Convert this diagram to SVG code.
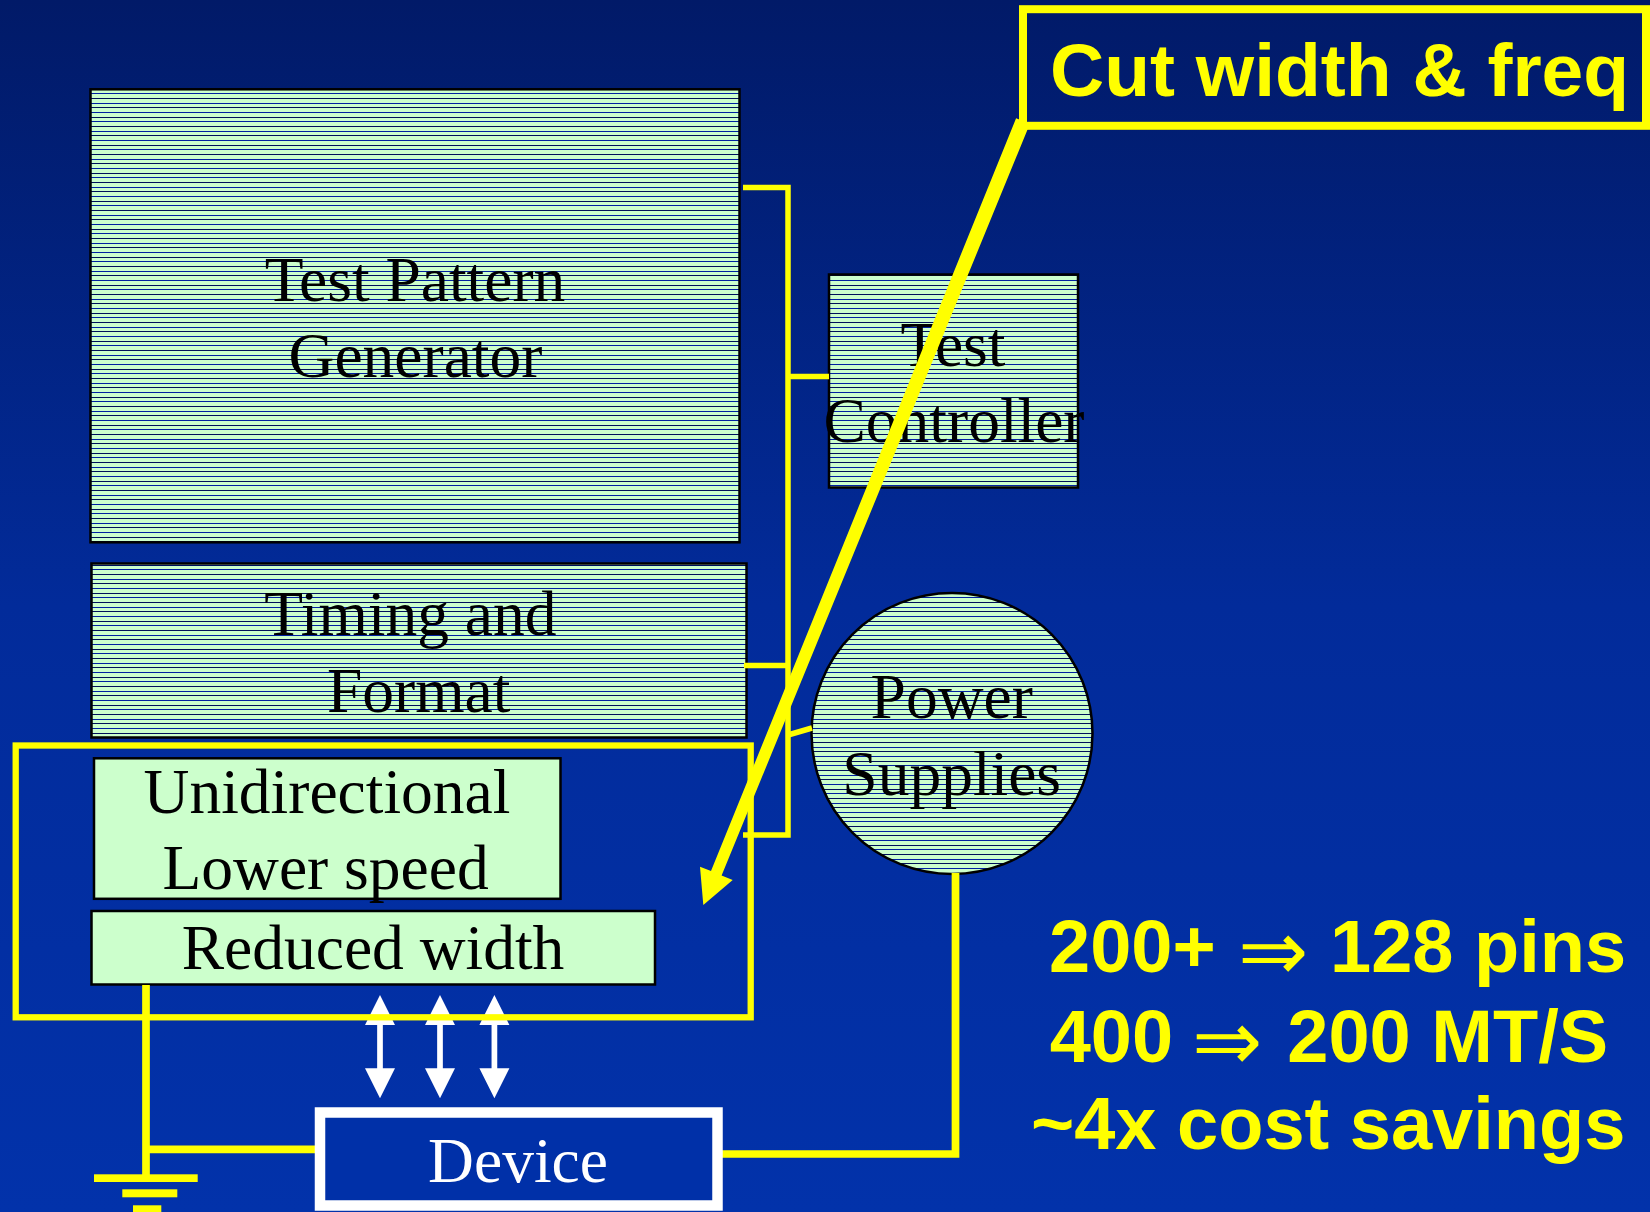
<svg xmlns="http://www.w3.org/2000/svg" width="1650" height="1212" viewBox="0 0 1650 1212">
<defs>
<linearGradient id="bg" x1="0" y1="0" x2="0" y2="1">
<stop offset="0" stop-color="#011a68"/>
<stop offset="0.5" stop-color="#022b9a"/>
<stop offset="1" stop-color="#0232aa"/>
</linearGradient>
<pattern id="hatch" patternUnits="userSpaceOnUse" width="20" height="28">
<rect width="20" height="28" fill="#ccffcc"/>
<rect y="0" width="20" height="1" fill="#0020a0"/>
<rect y="5" width="20" height="1" fill="#00105a"/>
<rect y="9" width="20" height="1" fill="#0020a0"/>
<rect y="14" width="20" height="1" fill="#00105a"/>
<rect y="19" width="20" height="1" fill="#0020a0"/>
<rect y="23" width="20" height="1" fill="#00105a"/>
</pattern>
<path id="bidi" d="M0,995 L15,1025 H2.85 V1068.3 H15 L0,1098.3 L-15,1068.3 H-2.85 V1025 H-15 Z" fill="#ffffff"/>
<style>
.box{stroke:#000;stroke-width:2.5}
.hatch{fill:url(#hatch)}
.plain{fill:#ccffcc}
.lbl{font-family:"Liberation Serif","Times New Roman",serif;font-size:63.5px;text-anchor:middle;fill:#000}
.wire{fill:none;stroke:#ffff00;stroke-width:5.5}
.gnd{fill:none;stroke:#ffff00;stroke-width:7.7}
.ybar{fill:#ffff00}
.big{font-family:"Liberation Sans",Arial,sans-serif;font-weight:bold;font-size:74px;fill:#ffff00}
.sym{font-family:"DejaVu Sans",sans-serif;font-weight:normal;font-size:84px;fill:#ffff00}
</style>
</defs>
<rect width="1650" height="1212" fill="url(#bg)"/>

<g id="test-pattern-generator">
<rect class="box hatch" x="90.5" y="89.3" width="649" height="453"/>
<text class="lbl" x="415" y="300.7">Test Pattern</text>
<text class="lbl" x="415.5" y="376.7">Generator</text>
</g>

<g id="test-controller">
<rect class="box hatch" x="829" y="274.5" width="249" height="213"/>
<text class="lbl" x="953" y="366.4">Test</text>
<text class="lbl" x="954" y="442.3">Controller</text>
</g>

<g id="timing-format">
<rect class="box hatch" x="91.5" y="563.5" width="655" height="174"/>
<text class="lbl" x="410.4" y="635">Timing and</text>
<text class="lbl" x="418.7" y="711.7">Format</text>
</g>

<g id="power-supplies">
<circle class="box hatch" cx="952" cy="733.5" r="140.5"/>
<text class="lbl" x="951.7" y="718.2">Power</text>
<text class="lbl" x="951.7" y="795">Supplies</text>
</g>

<g id="pin-electronics">
<use href="#bidi" x="380"/>
<use href="#bidi" x="440"/>
<use href="#bidi" x="494.4"/>
<rect x="15.7" y="745.5" width="735" height="271.8" fill="none" stroke="#ffff00" stroke-width="6.3"/>
</g>

<g id="unidirectional">
<rect class="box plain" x="94" y="758.3" width="466.5" height="140.5"/>
<text class="lbl" x="327" y="812.7">Unidirectional</text>
<text class="lbl" x="325.6" y="889.3">Lower speed</text>
</g>

<g id="reduced-width">
<rect class="box plain" x="91.5" y="911" width="563.5" height="73.5"/>
<text class="lbl" x="373" y="969.3">Reduced width</text>
</g>

<g id="connectors">
<path class="wire" d="M743,187.5 H788 V835 H743"/>
<path class="wire" d="M788,376.5 H829"/>
<path class="wire" d="M744,665.5 H788"/>
<path class="wire" d="M788,735 L812,728"/>
<path class="gnd" d="M146,985 V1178"/>
<path class="gnd" d="M146,1149.3 H318"/>
<path class="gnd" d="M955.5,873 V1154 H722"/>
</g>

<g id="ground">
<rect class="ybar" x="94" y="1174.3" width="103.7" height="7.7"/>
<rect class="ybar" x="122.3" y="1189.3" width="55" height="8"/>
<rect class="ybar" x="133" y="1205.3" width="28.3" height="8"/>
</g>

<g id="device">
<rect x="320" y="1112.5" width="397.5" height="93" fill="#0030a8" stroke="#ffffff" stroke-width="10.5"/>
<text class="lbl" x="518" y="1181.7" style="fill:#ffffff">Device</text>
</g>

<g id="callout">
<polygon fill="#ffff00" points="1016.1,118.2 711,871.1 700,866.7 703.3,905 732.7,880 721.6,875.5 1029.9,123.8"/>
<rect x="1023" y="9.2" width="623" height="116.6" fill="none" stroke="#ffff00" stroke-width="8"/>
<text class="big" x="1050" y="96" style="font-size:75px">Cut width &amp; freq</text>
</g>

<g id="savings">
<text class="big" x="1049" y="971.7">200+</text>
<text class="sym" x="1238" y="980">⇒</text>
<text class="big" x="1330" y="971.7">128 pins</text>
<text class="big" x="1049.7" y="1061.7">400</text>
<text class="sym" x="1192" y="1070">⇒</text>
<text class="big" x="1287.3" y="1061.7">200 MT/S</text>
<text class="big" x="1031" y="1149.3">~4x cost savings</text>
</g>
</svg>
